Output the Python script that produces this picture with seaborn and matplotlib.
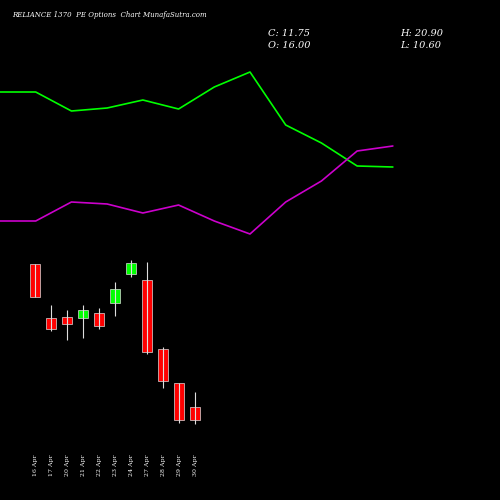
import matplotlib
matplotlib.use("Agg")
import matplotlib.pyplot as plt
import seaborn as sns

# candles
dates = ["16 Apr", "17 Apr", "20 Apr", "21 Apr", "22 Apr", "23 Apr",
         "24 Apr", "27 Apr", "28 Apr", "29 Apr", "30 Apr"]
opens = [61.8, 44.5, 44.8, 44.5, 46.1, 49.3, 58.6, 56.6, 34.6, 23.7, 16.00]
closes = [51.2, 41.0, 42.6, 47.0, 41.9, 53.8, 62.1, 33.6, 24.3, 11.8, 11.75]
highs = [61.8, 48.6, 47.0, 48.6, 47.7, 56.0, 63.0, 62.4, 35.2, 23.7, 20.90]
lows = [51.2, 40.3, 37.4, 38.1, 40.9, 45.1, 57.6, 33.0, 22.1, 10.9, 10.60]

# indicator lines (upper panel)
green_line = [208, 208, 189, 192, 200, 191, 213, 228, 175, 157, 134, 133]
purple_line = [79, 79, 98, 96, 87, 95, 79, 66, 98, 119, 149, 154]

sns.set_style("dark", {"axes.facecolor": "black", "figure.facecolor": "black"})
fig = plt.figure(figsize=(5, 5), dpi=100)
fig.patch.set_facecolor("black")

ax1 = fig.add_axes([0, 0, 1, 1])
ax1.set_facecolor("black")
idx = list(range(len(green_line)))
sns.lineplot(x=idx, y=green_line, color="#00ff00", lw=1.2, ax=ax1)
sns.lineplot(x=idx, y=purple_line, color="#cc00cc", lw=1.2, ax=ax1)
ax1.set_xlim(0, 14)
ax1.set_ylim(-200, 300)
ax1.axis("off")

ax2 = fig.add_axes([0, 0, 1, 1])
ax2.patch.set_alpha(0)
for i in range(len(dates)):
    o, c, h, l = opens[i], closes[i], highs[i], lows[i]
    col = "#00ff00" if c > o else "#ff0000"
    ax2.vlines(i, l, h, color="#dddddd", lw=0.8)
    ax2.bar(i, abs(c - o), bottom=min(o, c), width=0.6, color=col,
            edgecolor="#dddddd", linewidth=0.5)
    ax2.text(i, -2.6, dates[i], rotation=90, color="white", fontsize=4.5,
             family="DejaVu Serif", ha="center", va="center")
ax2.set_xlim(-2.19, 29.06)
ax2.set_ylim(-13.76, 146.24)
ax2.axis("off")

fig.text(0.024, 0.966, "RELIANCE 1370  PE Options  Chart MunafaSutra.com",
         color="white", fontsize=5, family="DejaVu Serif", style="italic")
fig.text(0.535, 0.927, "C: 11.75", color="white", fontsize=7, family="DejaVu Serif", style="italic")
fig.text(0.535, 0.905, "O: 16.00", color="white", fontsize=7, family="DejaVu Serif", style="italic")
fig.text(0.8, 0.927, "H: 20.90", color="white", fontsize=7, family="DejaVu Serif", style="italic")
fig.text(0.8, 0.905, "L: 10.60", color="white", fontsize=7, family="DejaVu Serif", style="italic")

fig.savefig("out.png", dpi=100, facecolor="black")
